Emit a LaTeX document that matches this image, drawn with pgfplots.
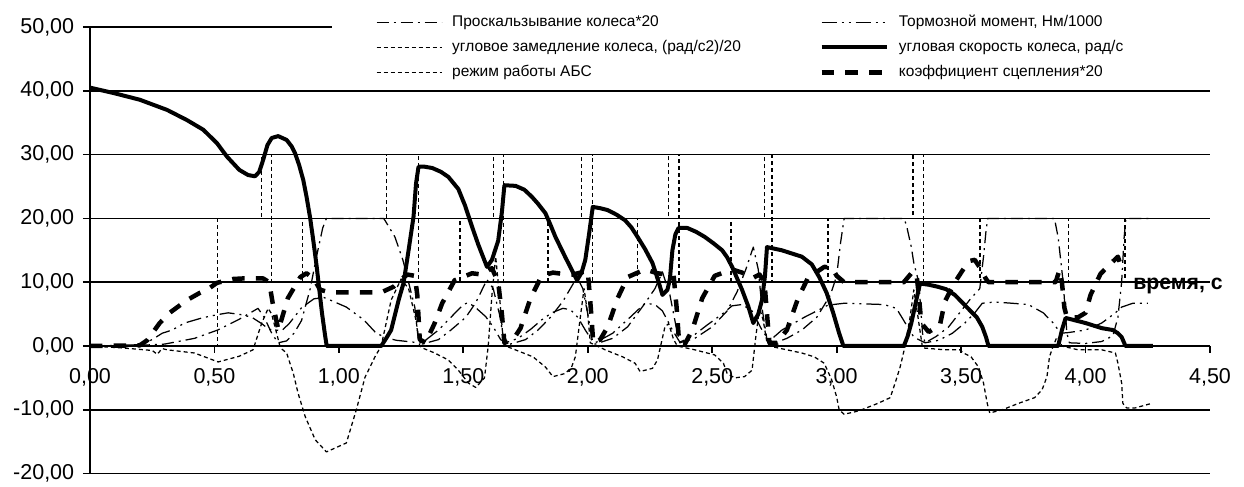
\documentclass[border=0pt]{standalone}
\usepackage{fontspec}
\setmainfont{Liberation Sans}
\usepackage{pgfplots}
\pgfplotsset{compat=1.18}
\usetikzlibrary{calc}
\begin{document}
\begin{tikzpicture}
\tikzset{
 slipst/.style={black, line width=0.5pt, line join=round, dash pattern=on 4.8pt off 2pt on 0.8pt off 2pt},
 torqst/.style={black, line width=0.5pt, line join=round, dash pattern=on 6pt off 2pt on 0.8pt off 2pt on 0.8pt off 2pt},
 decst/.style={black, line width=0.5pt, line join=round, dash pattern=on 1.6pt off 1.2pt},
 absst/.style={black, line width=0.5pt, dash pattern=on 1.6pt off 1.2pt},
 spdst/.style={black, line width=1.6pt, line join=round},
 must/.style={black, line width=1.8pt, line join=round, dash pattern=on 5pt off 4.5pt},
}
\begin{axis}[name=ax, scale only axis, width=448pt, height=178.64pt,
 xmin=0, xmax=4.5, ymin=-20, ymax=50,
 axis x line=middle, axis y line=left,
 axis line style={-, line width=0.8pt, black},
 hide obscured x ticks=false,
 xtick={0,0.5,1,1.5,2,2.5,3,3.5,4,4.5}, ytick={-20,-10,0,10,20,30,40,50},
 ymajorgrids, grid style={black, line width=0.7pt},
 tick style={black, line width=0.7pt}, major tick length=2.8pt, tick align=outside,
 /pgf/number format/fixed, /pgf/number format/fixed zerofill, /pgf/number format/precision=2,
 /pgf/number format/use comma, /pgf/number format/assume math mode=true,
 ticklabel style={font=\fontsize{8.6}{10}\selectfont},
 xticklabel style={yshift=-2.8pt},
 clip=false,
 legend columns=2, legend cell align=left,
 legend image code/.code={\draw[#1] (0pt,0pt) -- (26pt,0pt);},
 legend style={at={(0.2549,1.033)}, anchor=north west, draw=none, fill=none, inner sep=0pt,
   font=\fontsize{6.2}{7}\selectfont, row sep=2.3pt,
   nodes={inner sep=1pt, text height=4.5pt, text depth=1.2pt},
   /tikz/every odd column/.append style={column sep=3pt},
   /tikz/every even column/.append style={column sep=30.4pt}},
]
\addlegendimage{slipst}\addlegendentry{Проскальзывание колеса*20}
\addlegendimage{torqst}\addlegendentry{Тормозной момент, Нм/1000}
\addlegendimage{decst}\addlegendentry{угловое замедление колеса, (рад/с2)/20}
\addlegendimage{spdst}\addlegendentry{угловая скорость колеса, рад/с}
\addlegendimage{absst}\addlegendentry{режим работы АБС}
\addlegendimage{must}\addlegendentry{коэффициент сцепления*20}

\fill[white] (rel axis cs:0.2161,0.97) rectangle (rel axis cs:1.01,1.01);

% ABS mode
\addplot[absst, forget plot] coordinates {(0,0)(0.513,0)(0.513,20)(0.69,20)(0.69,30)(0.73,30)(0.73,10)(0.855,10)(0.855,20)(1.19,20)(1.19,30)(1.32,30)(1.32,10)(1.487,10)(1.487,20)(1.62,20)(1.62,30)(1.66,30)(1.66,10)(1.84,10)(1.84,20)(1.975,20)(1.975,30)(2.02,30)(2.02,10)(2.20,10)(2.20,20)(2.325,20)(2.325,30)(2.367,30)(2.367,10)(2.575,10)(2.575,20)(2.71,20)(2.71,30)(2.74,30)(2.74,10)(2.965,10)(2.965,20)(3.307,20)(3.307,30)(3.35,30)(3.35,10)(3.576,10)(3.576,20)(3.93,20)(3.93,10)(4.158,10)(4.158,20)(4.27,20)};

% angular deceleration /20
\addplot[decst, forget plot] coordinates {(0,0)(0.13,-0.3)(0.25,-0.7)(0.27,-1.3)(0.29,-0.4)(0.31,-0.6)(0.42,-1.1)(0.515,-2.5)(0.60,-1.6)(0.655,-0.6)(0.69,3.6)(0.716,5.9)(0.73,5.0)(0.765,-0.3)(0.79,-1.1)(0.817,-4.3)(0.836,-7.4)(0.865,-11.1)(0.905,-14.7)(0.95,-16.6)(1.03,-15.2)(1.07,-10.0)(1.105,-4.9)(1.145,-1.7)(1.17,0)(1.21,7.2)(1.25,10.5)(1.28,9)(1.31,4)(1.325,0)(1.335,-0.3)(1.385,-1.1)(1.44,-2.2)(1.48,-3.8)(1.52,-5.8)(1.55,-6.5)(1.585,-5)(1.60,0)(1.615,8)(1.63,14)(1.645,8)(1.66,1)(1.67,0)(1.78,-1.7)(1.83,-3.3)(1.86,-4.8)(1.91,-4.3)(1.935,-3.3)(1.95,-1.7)(1.97,4.5)(1.985,9)(2.0,5)(2.01,0.5)(2.07,-0.6)(2.14,-1.7)(2.19,-2.7)(2.21,-4.0)(2.26,-3.5)(2.28,-2.2)(2.31,3.0)(2.325,3.5)(2.345,1)(2.36,0)(2.43,-0.6)(2.51,-1.4)(2.545,-2.7)(2.56,-4.3)(2.59,-5.0)(2.63,-4.8)(2.66,-3.8)(2.675,1.4)(2.69,6)(2.705,4)(2.72,0.5)(2.74,-0.1)(2.80,-0.6)(2.86,-1.1)(2.91,-1.7)(2.95,-2.7)(2.98,-5.3)(3.0,-8)(3.01,-10)(3.03,-10.7)(3.075,-10.3)(3.10,-10)(3.165,-9)(3.215,-8.1)(3.235,-5.8)(3.255,-3.3)(3.275,0)(3.295,4.5)(3.31,8.8)(3.325,5)(3.345,-0.3)(3.435,-0.6)(3.495,-0.6)(3.51,-1.1)(3.54,-1.7)(3.57,-3.3)(3.59,-5.8)(3.605,-9)(3.615,-10.5)(3.665,-10)(3.73,-9)(3.795,-8.1)(3.825,-6.9)(3.845,-4.8)(3.855,-1.7)(3.87,0)(3.885,1.4)(3.895,1.0)(3.905,0)(3.97,-0.6)(4.065,-0.6)(4.12,-1.1)(4.13,-2.7)(4.145,-5.8)(4.15,-9)(4.165,-9.7)(4.2,-9.7)(4.265,-9)};

% slip *20
\addplot[slipst, forget plot] coordinates {(0,0)(0.2,0.1)(0.30,0.3)(0.42,1.2)(0.513,2.5)(0.60,4.2)(0.675,5.9)(0.70,4.5)(0.73,2.0)(0.756,0.5)(0.79,0.8)(0.82,2)(0.85,4)(0.885,9)(0.91,14)(0.935,18.5)(0.95,20)(1.18,20)(1.185,19.7)(1.225,17.1)(1.257,13.5)(1.278,10.3)(1.305,6.1)(1.318,1.4)(1.335,0.3)(1.40,1)(1.45,2.5)(1.51,4.5)(1.55,6.8)(1.595,10.4)(1.62,9)(1.645,5)(1.665,0.5)(1.68,0.2)(1.75,1)(1.80,2.5)(1.85,4.5)(1.90,7)(1.957,10.8)(1.98,9)(2.0,5)(2.02,0.5)(2.03,0.3)(2.10,1.2)(2.16,3)(2.23,6.7)(2.27,9)(2.30,11.6)(2.33,8)(2.355,3)(2.37,0.5)(2.43,1.2)(2.50,3)(2.56,5.5)(2.60,8.5)(2.635,12)(2.665,15.5)(2.685,12)(2.70,6)(2.72,1)(2.74,0.3)(2.80,1.2)(2.86,2.5)(2.92,4.5)(2.975,8)(3.0,11)(3.015,16)(3.03,20)(3.27,20)(3.28,19)(3.30,15.5)(3.31,13)(3.33,10)(3.345,2)(3.355,0.5)(3.40,1.5)(3.45,3)(3.50,5.5)(3.54,7.5)(3.575,9)(3.59,14)(3.60,18)(3.607,20)(3.875,20)(3.89,17)(3.91,10)(3.925,2)(3.935,0.5)(4.0,0.4)(4.065,0.7)(4.11,1.6)(4.13,4.5)(4.145,10)(4.155,17)(4.162,20)(4.27,20)};

% braking torque /1000
\addplot[torqst, forget plot] coordinates {(0,0)(0.2,0.2)(0.25,1.0)(0.29,2.0)(0.33,2.5)(0.38,3.6)(0.45,4.4)(0.51,4.9)(0.555,5.2)(0.61,4.9)(0.65,4.5)(0.69,3.5)(0.72,2.6)(0.77,2.4)(0.80,3.5)(0.85,6)(0.90,7.4)(0.94,7.6)(0.965,7.2)(1.03,6.1)(1.10,4.1)(1.15,2.0)(1.19,1.3)(1.23,0.9)(1.30,0.6)(1.335,0.5)(1.40,2.5)(1.45,4.5)(1.50,6.5)(1.52,6.8)(1.55,6.0)(1.59,4.6)(1.62,3)(1.65,1)(1.67,0.5)(1.72,1.2)(1.77,2.6)(1.815,4.1)(1.855,5.2)(1.90,5.9)(1.93,5.7)(1.96,4.5)(1.99,2.5)(2.02,0.7)(2.03,0.5)(2.10,2)(2.17,4.5)(2.23,6.7)(2.27,6.5)(2.30,5.5)(2.34,2.5)(2.37,0.6)(2.42,1.5)(2.48,3.3)(2.54,5)(2.58,6.3)(2.62,6.5)(2.66,5.5)(2.70,2.5)(2.73,0.8)(2.78,2.5)(2.87,4.5)(2.965,6.4)(3.03,6.7)(3.19,6.5)(3.24,5.9)(3.285,3.0)(3.31,1.4)(3.355,0.5)(3.41,0.9)(3.465,2)(3.515,3.6)(3.555,5.2)(3.585,6.7)(3.635,6.9)(3.705,6.7)(3.77,6.5)(3.83,5.2)(3.87,3.6)(3.90,2.0)(3.93,2.1)(4.0,2.5)(4.065,3.6)(4.12,5.2)(4.145,6.1)(4.19,6.7)(4.25,6.7)};

% adhesion coefficient *20
\addplot[must, forget plot] coordinates {(0,0)(0.2,0.1)(0.23,0.9)(0.28,3.6)(0.32,5.2)(0.39,7.2)(0.44,8.3)(0.47,8.8)(0.51,9.9)(0.575,10.5)(0.62,10.6)(0.695,10.6)(0.72,10.0)(0.735,6.5)(0.757,2.5)(0.795,7.5)(0.845,10.8)(0.87,11.4)(0.90,10.5)(0.925,8.8)(0.965,8.4)(1.17,8.4)(1.22,9.3)(1.245,10.3)(1.275,11.2)(1.305,11.0)(1.315,8)(1.325,1)(1.35,0.5)(1.36,1.5)(1.385,3.6)(1.415,6.7)(1.465,10.3)(1.535,11.4)(1.575,11.2)(1.615,12.2)(1.64,10)(1.655,5)(1.665,0.5)(1.70,1.0)(1.73,2.8)(1.77,7.5)(1.815,11)(1.86,11.5)(1.90,11.3)(1.94,11.2)(1.97,11.5)(2.0,11.8)(2.012,6)(2.022,0.5)(2.05,1)(2.08,3)(2.12,7.5)(2.16,10.8)(2.23,12)(2.28,11.4)(2.32,11.2)(2.345,11)(2.357,6)(2.367,0.5)(2.39,0.3)(2.42,2.5)(2.46,7.5)(2.51,11)(2.58,12)(2.62,11.5)(2.665,10.7)(2.69,11.2)(2.71,10)(2.72,5)(2.73,0.5)(2.76,0.5)(2.80,2.5)(2.845,7.5)(2.885,10.7)(2.95,12.4)(2.98,12.3)(3.0,11)(3.03,10)(3.27,10)(3.30,11.4)(3.32,11.5)(3.33,8)(3.34,3.6)(3.37,2.2)(3.415,3.3)(3.435,7)(3.475,10)(3.53,13.3)(3.555,13.5)(3.58,12)(3.60,10.5)(3.61,10)(3.88,10)(3.895,11.9)(3.905,10)(3.915,6)(3.925,4.5)(3.97,4.5)(4.0,5.2)(4.02,8)(4.06,11.3)(4.09,12.5)(4.13,14)(4.15,11.6)};

% wheel angular speed
\addplot[spdst, forget plot] coordinates {(0,40.5)(0.1,39.6)(0.2,38.6)(0.31,37.0)(0.39,35.4)(0.455,33.9)(0.51,31.8)(0.55,29.7)(0.60,27.6)(0.635,26.8)(0.663,26.6)(0.68,27.3)(0.696,29.2)(0.713,31.5)(0.73,32.6)(0.756,32.9)(0.79,32.3)(0.81,31.3)(0.824,30.2)(0.84,28.4)(0.857,26.0)(0.87,23.4)(0.884,20.2)(0.898,16.3)(0.911,12.4)(0.922,8.6)(0.932,5.2)(0.944,1.8)(0.951,0)(1.17,0)(1.19,1.2)(1.21,2.5)(1.24,7.2)(1.26,9.9)(1.28,15)(1.30,20.3)(1.31,25.5)(1.32,28.1)(1.345,28.1)(1.375,27.9)(1.41,27.3)(1.44,26.5)(1.48,24.6)(1.507,22.0)(1.535,18.7)(1.56,15.9)(1.595,12.4)(1.615,13.5)(1.64,16.5)(1.655,21)(1.665,25.2)(1.71,25.1)(1.745,24.5)(1.775,23.4)(1.80,22.3)(1.83,20.8)(1.85,19.0)(1.87,17.1)(1.91,13.9)(1.957,10.3)(1.975,11.5)(1.99,13.5)(2.005,17.5)(2.02,21.8)(2.05,21.6)(2.08,21.3)(2.115,20.6)(2.15,19.7)(2.175,18.6)(2.20,17.1)(2.23,15.2)(2.26,13.0)(2.285,10)(2.30,8.0)(2.32,8.8)(2.33,10.5)(2.34,15)(2.352,17.5)(2.365,18.5)(2.40,18.5)(2.435,17.9)(2.47,17.1)(2.505,16.1)(2.54,15.0)(2.56,13.9)(2.58,12.4)(2.60,10.6)(2.62,8.8)(2.645,6.2)(2.665,3.6)(2.685,5)(2.70,7.2)(2.712,11)(2.72,15.5)(2.78,15.0)(2.82,14.5)(2.86,14.0)(2.90,12.8)(2.93,10.8)(2.96,8.3)(2.986,5.2)(3.01,2)(3.027,0)(3.27,0)(3.285,1.5)(3.30,3.6)(3.32,7.2)(3.335,9.8)(3.37,9.6)(3.405,9.3)(3.44,8.9)(3.475,8.0)(3.495,7.2)(3.53,5.8)(3.563,4.5)(3.585,3.0)(3.60,1.4)(3.61,0)(3.89,0)(3.905,2.5)(3.92,4.4)(3.96,4.0)(4.0,3.6)(4.065,2.8)(4.11,2.5)(4.13,2.0)(4.145,1.4)(4.155,0.5)(4.16,0)(4.27,0)};

\node[anchor=base west, inner sep=0pt, font=\fontsize{8.5}{10}\selectfont\bfseries] at (axis cs:4.19,8.78) {время, с};
\end{axis}
\pgfresetboundingbox
\path[use as bounding box] ($(ax.south west)+(-36pt,-5.36pt)$) rectangle ($(ax.south west)+(461.6pt,189.44pt)$);
\end{tikzpicture}
\end{document}
